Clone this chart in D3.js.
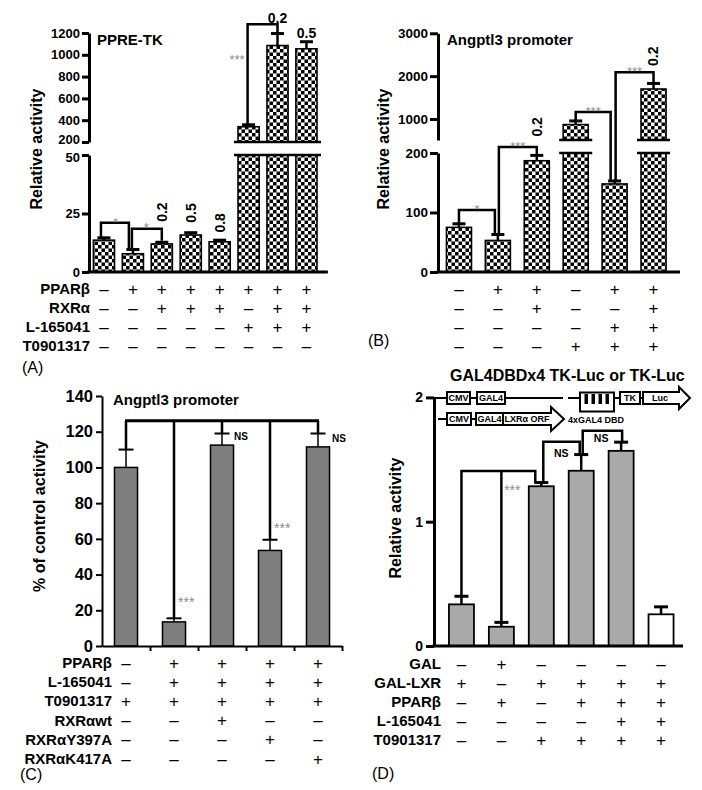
<!DOCTYPE html>
<html><head><meta charset="utf-8">
<script src="https://cdn.jsdelivr.net/npm/d3@7"></script>
<style>
body{margin:0;background:#fff;}
svg{display:block;}
</style></head><body>
<svg id="fig" width="702" height="790"></svg>
<script>
// ================= DATA =================
// Panel A : PPRE-TK
const aValues = [13.6, 7.8, 12.0, 15.8, 12.9, 340, 1085, 1055];
const aErrors = [1.0, 1.8, 0.7, 1.0, 0.7, 18, 110, 65];
const aTicksLow = [0, 25, 50];
const aTicksHigh = [200, 400, 600, 800, 1000, 1200];
const aRowLabels = ["PPARβ", "RXRα", "L-165041", "T0901317"];
const aSigns = ["-+++++++", "--+++-++", "-----+++", "--------"];
const aPLabels = [
  {i: 2, t: "0.2", v: 25.6, rot: true}, {i: 3, t: "0.5", v: 25.2, rot: true},
  {i: 4, t: "0.8", v: 21.0, rot: true}, {i: 6, t: "0.2", hi: 1292}, {i: 7, t: "0.5", hi: 1154}
];

// Panel B : Angptl3 promoter
const bValues = [75, 53, 187, 870, 148, 1700];
const bErrors = [6, 10, 9, 85, 5, 130];
const bTicksLow = [0, 100, 200];
const bTicksHigh = [1000, 2000, 3000];
const bSigns = ["-++-++", "--+--+", "----++", "---+++"];

// Panel C : Angptl3 promoter, % of control
const cValues = [100, 13.5, 112.5, 53.5, 111.5];
const cErrors = [10, 2, 6.5, 6, 7.5];
const cTicks = [0, 20, 40, 60, 80, 100, 120, 140];
const cRowLabels = ["PPARβ", "L-165041", "T0901317", "RXRαwt", "RXRαY397A", "RXRαK417A"];
const cSigns = ["-++++", "-++++", "+++++", "--+--", "---+-", "----+"];

// Panel D : GAL4DBDx4 TK-Luc or TK-Luc
const dValues = [0.335, 0.155, 1.285, 1.41, 1.57, 0.255];
const dErrors = [0.065, 0.035, 0.03, 0.13, 0.07, 0.06];
const dReporter = ["GAL4", "GAL4", "GAL4", "GAL4", "GAL4", "TK"];
const dTicks = [0, 1, 2];
const dRowLabels = ["GAL", "GAL-LXR", "PPARβ", "L-165041", "T0901317"];
const dSigns = ["-+----", "+-++++", "-+-+++", "----++", "--++++"];

// ================= HELPERS =================
const FONT = '"Liberation Sans", Arial, Helvetica, sans-serif';
const svg = d3.select("#fig").attr("font-family", FONT);
const defs = svg.append("defs");
const pat = defs.append("pattern").attr("id", "checker")
  .attr("patternUnits", "userSpaceOnUse").attr("width", 7).attr("height", 7);
pat.append("rect").attr("width", 7).attr("height", 7).attr("fill", "#fff");
pat.append("rect").attr("width", 3.5).attr("height", 3.5).attr("fill", "#000");
pat.append("rect").attr("x", 3.5).attr("y", 3.5).attr("width", 3.5).attr("height", 3.5).attr("fill", "#000");
const fmtInt = d3.format("d");

function txt(g, x, y, s, o = {}) {
  const t = g.append("text").attr("x", x).attr("y", y).text(s)
    .attr("font-size", o.size || 14)
    .attr("font-weight", o.weight || "bold")
    .attr("text-anchor", o.anchor || "start")
    .attr("fill", o.fill || "#000");
  if (o.dy) t.attr("dy", o.dy);
  if (o.rot) t.attr("transform", `rotate(-90 ${x} ${y})`);
  return t;
}
function styleAxis(g, w, size) {
  g.attr("font-family", FONT);
  g.select(".domain").attr("stroke", "#000").attr("stroke-width", w);
  g.selectAll(".tick line").attr("stroke", "#000").attr("stroke-width", w);
  g.selectAll(".tick text").attr("font-size", size).attr("font-weight", "bold").attr("fill", "#000");
  return g;
}
function hline(g, x1, x2, y, w) {
  g.append("line").attr("x1", x1).attr("x2", x2).attr("y1", y).attr("y2", y).attr("stroke", "#000").attr("stroke-width", w);
}
function path(g, pts, w) {
  g.append("path").attr("d", d3.line()(pts)).attr("fill", "none").attr("stroke", "#000")
    .attr("stroke-width", w).attr("stroke-linejoin", "miter");
}
function errorBar(g, cx, y0, y1, capW, w) {
  g.append("line").attr("x1", cx).attr("x2", cx).attr("y1", y0).attr("y2", y1).attr("stroke", "#000").attr("stroke-width", w);
  hline(g, cx - capW / 2, cx + capW / 2, y1, w + 0.5);
}
function brokenBars(g, values, errors, x, yLo, yHi, brk, hiBase) {
  values.forEach((v, i) => {
    const x0 = x(i), w = x.bandwidth(), cx = x0 + w / 2;
    if (v <= brk) {
      g.append("rect").attr("x", x0).attr("y", yLo(v)).attr("width", w).attr("height", yLo(0) - yLo(v))
        .attr("fill", "url(#checker)").attr("stroke", "#000").attr("stroke-width", 1.6);
      errorBar(g, cx, yLo(v), yLo(v + errors[i]), 13, 2.5);
    } else {
      g.append("rect").attr("x", x0).attr("y", yLo(brk)).attr("width", w).attr("height", yLo(0) - yLo(brk))
        .attr("fill", "url(#checker)").attr("stroke", "#000").attr("stroke-width", 1.6);
      g.append("rect").attr("x", x0).attr("y", yHi(v)).attr("width", w).attr("height", yHi(hiBase) - yHi(v))
        .attr("fill", "url(#checker)").attr("stroke", "#000").attr("stroke-width", 1.6);
      hline(g, x0 - 4, x0 + w + 4, yLo(brk), 2.5);
      hline(g, x0 - 4, x0 + w + 4, yHi(hiBase), 2.5);
      errorBar(g, cx, yHi(v), yHi(v + errors[i]), 13, 2.5);
    }
  });
}
function signTable(g, signs, labels, xs, y0, dy, labelX) {
  signs.forEach((row, r) => {
    const y = y0 + r * dy;
    if (labels) txt(g, labelX, y + 5, labels[r], {size: 15, anchor: "end"});
    row.split("").forEach((c, k) => {
      txt(g, xs(k), y + 5.5, c === "+" ? "+" : "–", {size: 17, weight: "normal", anchor: "middle"});
    });
  });
}
const GRAY = "#8c8c8c";

// ================= PANEL A =================
const gA = svg.append("g");
const aX = d3.scaleBand().domain(d3.range(aValues.length)).range([89.5, 320.9]).paddingInner(0.27).paddingOuter(0.135);
const aYlo = d3.scaleLinear().domain([0, 50]).range([272, 155]);
const aYhi = d3.scaleLinear().domain([200, 1200]).range([142, 33]);
const aC = i => aX(i) + aX.bandwidth() / 2;
const aAxX = 89;
brokenBars(gA, aValues, aErrors, aX, aYlo, aYhi, 50, 200);
const aAxLo = styleAxis(gA.append("g").attr("transform", `translate(${aAxX},0)`)
  .call(d3.axisLeft(aYlo).tickValues(aTicksLow).tickFormat(fmtInt).tickSize(7).tickSizeOuter(0).tickPadding(2)), 3, 13);
const aAxHi = styleAxis(gA.append("g").attr("transform", `translate(${aAxX},0)`)
  .call(d3.axisLeft(aYhi).tickValues(aTicksHigh).tickFormat(fmtInt).tickSize(7).tickSizeOuter(0).tickPadding(2)), 3, 13);
aAxLo.selectAll(".tick text").filter(d => d === 50).attr("dy", "0.52em");
aAxHi.selectAll(".tick text").filter(d => d === 200).attr("dy", "0.12em");
hline(gA, aAxX - 1.5, aX.range()[1] + 7, aYlo(0), 3);
// significance
path(gA, [[aC(0) - 3, aYlo(15)], [aC(0) - 3, aYlo(21)], [aC(1) - 4, aYlo(21)], [aC(1) - 4, aYlo(10)]], 2.5);
path(gA, [[aC(1) - 1, aYlo(10)], [aC(1) - 1, aYlo(18.5)], [aC(2), aYlo(18.5)], [aC(2), aYlo(13.4)]], 2.5);
txt(gA, (aC(0) + aC(1)) / 2 - 3, aYlo(21) + 4, "*", {size: 13, weight: "normal", anchor: "middle", fill: GRAY});
txt(gA, (aC(1) + aC(2)) / 2 - 1, aYlo(18.5) + 3, "*", {size: 13, weight: "normal", anchor: "middle", fill: GRAY});
path(gA, [[aC(5) - 1, aYhi(358)], [aC(5) - 1, aYhi(1280)], [aC(6), aYhi(1280)], [aC(6), aYhi(1195)]], 2.5);
txt(gA, aC(5) - 4, aYhi(915), "***", {size: 13, weight: "normal", anchor: "end", fill: GRAY});
aPLabels.forEach(p => {
  if (p.rot) txt(gA, aC(p.i), aYlo(p.v), p.t, {size: 14, anchor: "middle", dy: "0.35em", rot: true});
  else txt(gA, aC(p.i), aYhi(p.hi), p.t, {size: 14, anchor: "middle"});
});
txt(gA, 97, 45, "PPRE-TK", {size: 15});
txt(gA, 36, 149, "Relative activity", {size: 16, anchor: "middle", dy: "0.35em", rot: true});
signTable(gA, aSigns, aRowLabels, aC, 289, 19, 90);
txt(gA, 22, 373, "(A)", {size: 16, weight: "normal"});

// ================= PANEL B =================
const gB = svg.append("g");
const bX = d3.scaleBand().domain(d3.range(bValues.length)).range([439.5, 673]).paddingInner(0.357).paddingOuter(0.1785);
const bYlo = d3.scaleLinear().domain([0, 200]).range([272, 153]);
const bYhi = d3.scaleLinear().domain([510, 3000]).range([140, 33.3]);
const bC = i => bX(i) + bX.bandwidth() / 2;
const bAxX = 438;
brokenBars(gB, bValues, bErrors, bX, bYlo, bYhi, 200, 510);
styleAxis(gB.append("g").attr("transform", `translate(${bAxX},0)`)
  .call(d3.axisLeft(bYlo).tickValues(bTicksLow).tickFormat(fmtInt).tickSize(8).tickSizeOuter(0).tickPadding(2)), 3, 13.5);
styleAxis(gB.append("g").attr("transform", `translate(${bAxX},0)`)
  .call(d3.axisLeft(bYhi).tickValues(bTicksHigh).tickFormat(fmtInt).tickSize(8).tickSizeOuter(0).tickPadding(2)), 3, 13.5);
hline(gB, bAxX - 1.5, bX.range()[1] + 7, bYlo(0), 3);
// significance
const bBr = [
  [[bC(0), bYlo(82)], [bC(0), bYlo(104)], [bC(1) - 3, bYlo(104)], [bC(1) - 3, bYlo(64)]],
  [[bC(1) + 1, bYlo(64)], [bC(1) + 1, bYlo(210)], [bC(2), bYlo(210)], [bC(2), bYlo(197)]],
  [[bC(3), bYhi(955)], [bC(3), bYhi(1163)], [bC(4) - 4, bYhi(1163)], [bC(4) - 4, bYlo(154)]],
  [[bC(4) + 1, bYlo(154)], [bC(4) + 1, bYhi(2093)], [bC(5), bYhi(2093)], [bC(5), bYhi(1830)]]
];
const bStars = ["*", "***", "***", "***"];
bBr.forEach((pts, k) => {
  path(gB, pts, 2.5);
  txt(gB, (pts[1][0] + pts[2][0]) / 2, pts[1][1] + 4, bStars[k], {size: 13, weight: "normal", anchor: "middle", fill: GRAY});
});
txt(gB, bC(2), bYlo(244), "0.2", {size: 14, anchor: "middle", dy: "0.35em", rot: true});
txt(gB, bC(5), bYhi(2465), "0.2", {size: 14, anchor: "middle", dy: "0.35em", rot: true});
txt(gB, 447, 45, "Angptl3 promoter", {size: 15});
txt(gB, 383, 149, "Relative activity", {size: 16, anchor: "middle", dy: "0.35em", rot: true});
signTable(gB, bSigns, null, bC, 289, 19, 0);
txt(gB, 368, 346, "(B)", {size: 16, weight: "normal"});

// ================= PANEL C =================
const gC = svg.append("g");
const cX = d3.scaleBand().domain(d3.range(cValues.length)).range([102, 342]).paddingInner(0.52).paddingOuter(0.26);
const cY = d3.scaleLinear().domain([0, 140]).range([646, 396]);
const cC = i => cX(i) + cX.bandwidth() / 2;
gC.selectAll("rect.bar").data(cValues).join("rect").attr("class", "bar")
  .attr("x", (d, i) => cX(i)).attr("y", d => cY(d)).attr("width", cX.bandwidth()).attr("height", d => cY(0) - cY(d))
  .attr("fill", "#7f7f7f").attr("stroke", "#000").attr("stroke-width", 1.5);
cValues.forEach((v, i) => errorBar(gC, cC(i), cY(v), cY(v + cErrors[i]), 15, 1.5));
styleAxis(gC.append("g").attr("transform", "translate(102,0)")
  .call(d3.axisLeft(cY).tickValues(cTicks).tickFormat(fmtInt).tickSize(6).tickSizeOuter(0).tickPadding(3)), 2, 16.5);
styleAxis(gC.append("g").attr("transform", `translate(0,${cY(0)})`)
  .call(d3.axisBottom(d3.scaleLinear().domain([0, cValues.length]).range(cX.range()))
    .tickValues(d3.range(1, cValues.length + 1)).tickSize(5).tickSizeOuter(0).tickFormat("")), 2, 10);
// bracket to control
const cLevel = 126.2;
hline(gC, cC(0) - 1, cC(4) + 1, cY(cLevel), 3);
cValues.forEach((v, i) => {
  gC.append("line").attr("x1", cC(i)).attr("x2", cC(i)).attr("y1", cY(cLevel)).attr("y2", cY(v + cErrors[i]))
    .attr("stroke", "#000").attr("stroke-width", 2.5);
});
txt(gC, cC(2) + 12, cY(115.3), "NS", {size: 10});
txt(gC, cC(4) + 14, cY(114.5), "NS", {size: 10});
txt(gC, cC(1) + 4, cY(21.8), "***", {size: 14, weight: "normal", fill: GRAY});
txt(gC, cC(3) + 4, cY(63.3), "***", {size: 14, weight: "normal", fill: GRAY});
txt(gC, 113, 405, "Angptl3 promoter", {size: 15});
txt(gC, 39, 516, "% of control activity", {size: 16, anchor: "middle", dy: "0.35em", rot: true});
signTable(gC, cSigns, cRowLabels, cC, 663, 19.2, 112);
txt(gC, 20, 780, "(C)", {size: 16, weight: "normal"});

// ================= PANEL D =================
const gD = svg.append("g");
const dX = d3.scaleBand().domain(d3.range(dValues.length)).range([441.5, 681]).paddingInner(0.373).paddingOuter(0.1865);
const dY = d3.scaleLinear().domain([0, 2]).range([646, 397.4]);
const dC = i => dX(i) + dX.bandwidth() / 2;
const dFill = r => r === "TK" ? "#fff" : "#a9a9a9";
gD.selectAll("rect.bar").data(dValues).join("rect").attr("class", "bar")
  .attr("x", (d, i) => dX(i)).attr("y", d => dY(d)).attr("width", dX.bandwidth()).attr("height", d => dY(0) - dY(d))
  .attr("fill", (d, i) => dFill(dReporter[i])).attr("stroke", "#000").attr("stroke-width", 1.8);
dValues.forEach((v, i) => errorBar(gD, dC(i), dY(v), dY(v + dErrors[i]), 14, 2.5));
const dAxX = 434;
styleAxis(gD.append("g").attr("transform", `translate(${dAxX},0)`)
  .call(d3.axisLeft(dY).tickValues(dTicks).tickFormat(fmtInt).tickSize(8).tickSizeOuter(0).tickPadding(3)), 3, 14);
hline(gD, dAxX - 1.5, dX.range()[1] + 2, dY(0), 3);
// brackets
path(gD, [[dC(0), dY(0.40)], [dC(0), dY(1.408)], [dC(2) - 6, dY(1.408)], [dC(2) - 6, dY(1.315)]], 2.5);
gD.append("line").attr("x1", dC(1)).attr("x2", dC(1)).attr("y1", dY(1.408)).attr("y2", dY(0.19)).attr("stroke", "#000").attr("stroke-width", 2.5);
path(gD, [[dC(2) + 2, dY(1.315)], [dC(2) + 2, dY(1.643)], [dC(3) - 1.5, dY(1.643)], [dC(3) - 1.5, dY(1.54)]], 2.5);
path(gD, [[dC(3) + 1.5, dY(1.54)], [dC(3) + 1.5, dY(1.732)], [dC(4) + 1, dY(1.732)], [dC(4) + 1, dY(1.64)]], 2.5);
txt(gD, (dC(1) + dC(2)) / 2 - 9, dY(1.215), "***", {size: 14, weight: "normal", anchor: "middle", fill: GRAY});
txt(gD, (dC(2) + dC(3)) / 2, dY(1.52), "NS", {size: 10.5, anchor: "middle"});
txt(gD, (dC(3) + dC(4)) / 2, dY(1.641), "NS", {size: 10.5, anchor: "middle"});
// construct diagram
function box(g, x0, x1, cy, h, label) {
  g.append("rect").attr("x", x0).attr("y", cy - h / 2).attr("width", x1 - x0).attr("height", h)
    .attr("fill", "#fff").attr("stroke", "#000").attr("stroke-width", 2);
  if (label) txt(g, (x0 + x1) / 2, cy + 3.3, label, {size: 9, anchor: "middle"});
}
function arrowBox(g, x0, xb, x1, cy, h, hh, label, lx) {
  const pts = [[x0, cy - h / 2], [xb, cy - h / 2], [xb, cy - hh / 2], [x1, cy], [xb, cy + hh / 2], [xb, cy + h / 2], [x0, cy + h / 2]];
  g.append("polygon").attr("points", pts.map(p => p.join(",")).join(" "))
    .attr("fill", "#fff").attr("stroke", "#000").attr("stroke-width", 2);
  txt(g, lx, cy + 3.3, label, {size: 9, anchor: "middle"});
}
const r1 = dY(2) + 0.6, r2 = 419;
hline(gD, dAxX, 447, r1, 2); box(gD, 447, 470, r1, 12, "CMV"); hline(gD, 470, 477, r1, 2);
box(gD, 477, 505, r1, 12, "GAL4"); hline(gD, 505, 563, r1, 2); hline(gD, 568, 580, r1, 2);
box(gD, 580, 614, r1 + 4, 19, null);
[584.5, 591.5, 598.5, 605.5].forEach(x => gD.append("rect").attr("x", x).attr("y", r1 - 4).attr("width", 3.5).attr("height", 10).attr("fill", "#000"));
hline(gD, 614, 620, r1, 2); box(gD, 620, 640, r1, 12, "TK"); hline(gD, 640, 643, r1, 2);
arrowBox(gD, 643, 679, 690, r1, 12, 22, "Luc", 660);
hline(gD, dAxX + 4, 447, r2, 2); box(gD, 447, 471, r2, 12, "CMV"); hline(gD, 471, 476, r2, 2);
box(gD, 476, 503, r2, 12, "GAL4");
arrowBox(gD, 503, 551, 564, r2, 12, 24, "LXRα ORF", 527);
txt(gD, 568, r2 + 3.5, "4xGAL4 DBD", {size: 9});
txt(gD, 450, 381, "GAL4DBDx4 TK-Luc or TK-Luc", {size: 16});
txt(gD, 395, 518, "Relative activity", {size: 16, anchor: "middle", dy: "0.35em", rot: true});
signTable(gD, dSigns, dRowLabels, dC, 664, 19, 441);
txt(gD, 372, 779, "(D)", {size: 16, weight: "normal"});
</script>
</body></html>
